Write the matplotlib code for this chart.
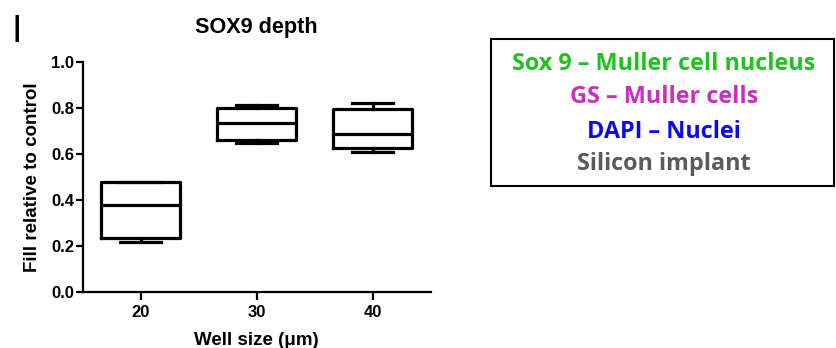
import matplotlib
matplotlib.use("Agg")
import matplotlib.pyplot as plt
from matplotlib.patches import Rectangle

# ---- data ----
categories = ["20", "30", "40"]
q1 = [0.235, 0.660, 0.627]
med = [0.379, 0.733, 0.688]
q3 = [0.477, 0.800, 0.794]
whislo = [0.218, 0.649, 0.610]
whishi = [0.480, 0.812, 0.820]
y_ticks = [0.0, 0.2, 0.4, 0.6, 0.8, 1.0]
legend_lines = ["Sox 9 \u2013 Muller cell nucleus", "GS \u2013 Muller cells",
                "DAPI \u2013 Nuclei", "Silicon implant"]
legend_colors = ["#1fc31f", "#cc2fbf", "#0a0af0", "#5a5a5a"]

W, H = 836, 348
fig = plt.figure(figsize=(W / 100, H / 100), dpi=100)
fig.patch.set_facecolor("white")

def fx(px):
    return px / W

def fy(py):
    return 1 - py / H

ax_l, ax_r, ax_t, ax_b = 82.5, 430.5, 62.0, 292.3
ax = fig.add_axes([fx(ax_l), fy(ax_b), fx(ax_r) - fx(ax_l), fy(ax_t) - fy(ax_b)])
ax_h = ax_b - ax_t
ax_w = ax_r - ax_l

stats = []
for i, c in enumerate(categories):
    stats.append(dict(label=c, q1=q1[i], med=med[i], q3=q3[i],
                      whislo=whislo[i], whishi=whishi[i], fliers=[]))

lw = 2.3
ax.bxp(stats, positions=range(len(categories)), widths=0.675,
       showfliers=False, patch_artist=False,
       boxprops=dict(color="black", linewidth=lw),
       medianprops=dict(color="black", linewidth=lw),
       whiskerprops=dict(color="black", linewidth=lw),
       capprops=dict(color="black", linewidth=lw),
       capwidths=0.36)

ax.set_xlim(-0.5, 2.5)
ax.set_ylim(0, 1.0)
ax.set_yticks(y_ticks)
ax.set_yticklabels([f"{v:.1f}" for v in y_ticks])
ax.set_xticks(range(len(categories)))
ax.set_xticklabels(categories)

for s in ["top", "right"]:
    ax.spines[s].set_visible(False)
for s in ["left", "bottom"]:
    ax.spines[s].set_linewidth(1.6)
ax.tick_params(axis="y", direction="out", length=5, width=1.6,
               labelsize=12, pad=1)
ax.tick_params(axis="x", direction="out", length=5.5, width=1.6,
               labelsize=12, pad=3.5)
for lab in ax.get_xticklabels() + ax.get_yticklabels():
    lab.set_fontfamily("Liberation Sans")
    lab.set_fontweight("bold")

ax.set_title("SOX9 depth", fontsize=15.6, fontweight="bold",
             fontfamily="Liberation Sans", y=(ax_b - 33.3) / ax_h,
             va="baseline", pad=0)
ax.set_ylabel("Fill relative to control", fontsize=13.5, fontweight="bold",
              fontfamily="Liberation Sans", va="center")
ax.yaxis.set_label_coords((33 - ax_l) / ax_w, 0.5)
ax.set_xlabel("Well size (\u03bcm)", fontsize=13.5, fontweight="bold",
              fontfamily="Liberation Sans", va="baseline")
ax.xaxis.set_label_coords(0.5, (ax_b - 345) / ax_h)

# panel letter
fig.text(fx(17), fy(42), "I", fontsize=27, fontfamily="Liberation Sans",
         ha="center", va="baseline")

# legend-like box
rect = Rectangle((fx(490.7), fy(185.7)), fx(834) - fx(490.7), fy(39.3) - fy(185.7),
                 transform=fig.transFigure, fill=False, edgecolor="black",
                 linewidth=1.5)
fig.patches.append(rect)
ys = [63.5, 97, 131.5, 164.5]
for t, c, yy in zip(legend_lines, legend_colors, ys):
    fig.text(fx(664), fy(yy), t, color=c, fontsize=16.8, fontweight="bold",
             fontfamily="Open Sans", ha="center", va="center")

fig.savefig("out.png", dpi=100)
